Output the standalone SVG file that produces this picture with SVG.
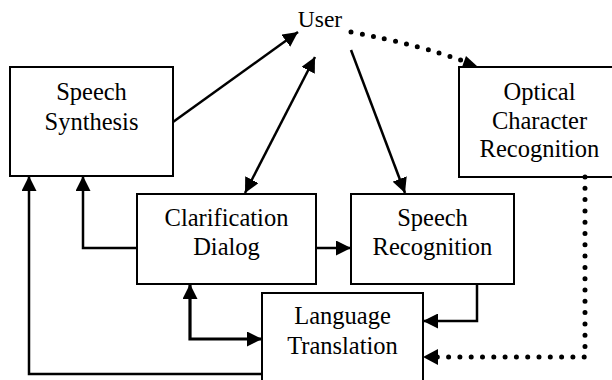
<svg xmlns="http://www.w3.org/2000/svg" width="612" height="380" viewBox="0 0 612 380">
<style>
.box{fill:#fff;stroke:#000;stroke-width:2}
.t{font-family:'Liberation Serif','DejaVu Serif',serif;font-size:24.5px;fill:#000;text-anchor:middle}
.c{fill:none;stroke:#000;stroke-width:2.5}
.thick{stroke-width:3.2}
.dot{fill:none;stroke:#000;stroke-width:5;stroke-linecap:round;stroke-dasharray:0 11.3}
</style>
<defs>
<marker id="ah" viewBox="0 0 10 10" refX="10" refY="5" markerWidth="15" markerHeight="15" markerUnits="userSpaceOnUse" orient="auto-start-reverse">
<path d="M0,0 L10,5 L0,10 Z" fill="#000"/>
</marker>
</defs>
<rect width="612" height="380" fill="#fff"/>
<g id="user"><text class="t" x="320" y="27" style="font-size:23.5px">User</text></g>
<g id="speech-synthesis"><rect class="box" x="10" y="67" width="163" height="109"/><text class="t" x="91.5" y="100">Speech</text><text class="t" x="91.5" y="130">Synthesis</text></g>
<g id="ocr"><rect class="box" x="459" y="67" width="162" height="110"/><text class="t" x="539.5" y="100">Optical</text><text class="t" x="539.5" y="129">Character</text><text class="t" x="539.5" y="157">Recognition</text></g>
<g id="clarification-dialog"><rect class="box" x="137" y="194" width="179" height="90"/><text class="t" x="226.5" y="226">Clarification</text><text class="t" x="226.5" y="255">Dialog</text></g>
<g id="speech-recognition"><rect class="box" x="351" y="194" width="163" height="90"/><text class="t" x="432.5" y="226">Speech</text><text class="t" x="432.5" y="255">Recognition</text></g>
<g id="language-translation"><rect class="box" x="262" y="293" width="161" height="100"/><text class="t" x="342.5" y="324">Language</text><text class="t" x="342.5" y="354">Translation</text></g>
<g id="connectors">
<line class="c" x1="173" y1="122" x2="298" y2="32" marker-end="url(#ah)"/>
<line class="c" x1="315" y1="57" x2="245" y2="193" marker-start="url(#ah)" marker-end="url(#ah)"/>
<line class="c" x1="351" y1="50" x2="405" y2="193" marker-end="url(#ah)"/>
<path class="dot" d="M351,32 Q420,45 466,62"/>
<path d="M478,67 L462,67 L466,56 Z" fill="#000"/>
<line class="c" x1="316" y1="248" x2="351" y2="248" marker-end="url(#ah)"/>
<polyline class="c" points="477,284 477,321 423,321" marker-end="url(#ah)"/>
<polyline class="c thick" points="190,284 190,339 262,339" marker-start="url(#ah)" marker-end="url(#ah)"/>
<polyline class="c" points="137,248 83,248 83,176" marker-end="url(#ah)"/>
<polyline class="c" points="262,374 29,374 29,176" marker-end="url(#ah)"/>
<polyline class="dot" points="585,177 585,357 437,357"/>
<path d="M423,357 L438,349 L438,365 Z" fill="#000"/>
</g>
</svg>
